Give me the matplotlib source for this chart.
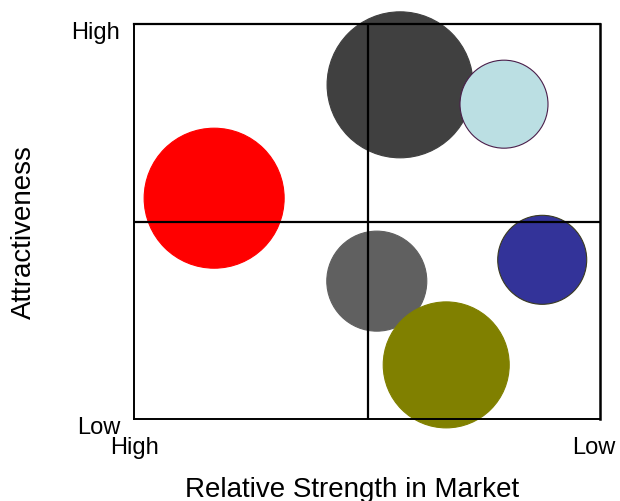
import matplotlib
matplotlib.use("Agg")
import matplotlib.pyplot as plt
import matplotlib.transforms as mtransforms

plt.rcParams['font.family'] = ['Liberation Sans', 'DejaVu Sans']

# Bubble data: position on a 0-10 grid (x: 0 = high strength, y: 10 = high attractiveness)
names = ["A", "B", "C", "D", "E", "F"]
strength = [1.72, 5.71, 7.94, 8.76, 5.21, 6.70]
attractiveness = [5.59, 8.46, 7.97, 4.03, 3.49, 1.37]
bubble_radius = [70, 73, 44, 44.5, 50, 63]  # relative size of each business
colors = ["#FF0000", "#404040", "#BBDFE3", "#333399", "#606060", "#808000"]
edge_colors = ["#FF0000", "#404040", "#4A1E4A", "#3A3A20", "#606060", "#808000"]

x_ticklabels = ["High", "Low"]
y_ticklabels = ["Low", "High"]

DPI = 100
fig = plt.figure(figsize=(6.2, 5.02), dpi=DPI)
ax = fig.add_axes([134 / 620, 1 - 420 / 502, 466 / 620, 395 / 502])
ax.set_xlim(0, 10)
ax.set_ylim(0, 10)

# radius in px -> marker area in points^2
sizes = [(2 * r * 72 / DPI) ** 2 for r in bubble_radius]
ax.scatter(strength, attractiveness, s=sizes, c=colors, edgecolors=edge_colors,
           linewidths=0.8, zorder=2, clip_on=False)

# quadrant lines over the bubbles
ax.axvline(5.02, color="black", lw=1.6, zorder=3)
ax.axhline(5, color="black", lw=1.6, zorder=3)

for side, spine in ax.spines.items():
    spine.set_linewidth(1.4)
    spine.set_zorder(4)
ax.spines["top"].set_linewidth(1.6)
ax.spines["right"].set_linewidth(1.8)

ax.set_xticks([0, 10])
ax.set_xticklabels(x_ticklabels, fontsize=17)
ax.set_yticks([0, 10])
ax.set_yticklabels(y_ticklabels, fontsize=17)
ax.tick_params(axis="x", length=0, pad=12)
ax.tick_params(axis="y", length=0, pad=10)

# nudge the y tick labels down a little, as in the original
shift = mtransforms.ScaledTranslation(0, -4 / 72, fig.dpi_scale_trans)
for lbl in ax.get_yticklabels():
    lbl.set_transform(lbl.get_transform() + shift)

# keep the right-hand "Low" inside the figure
xlbl = ax.get_xticklabels()[1]
xlbl.set_horizontalalignment("right")
xlbl.set_transform(xlbl.get_transform()
                   + mtransforms.ScaledTranslation(11 / 72, 0, fig.dpi_scale_trans))

fig.text(352 / 620, 1 - 490 / 502, "Relative Strength in Market", fontsize=20,
         ha="center", va="center")
fig.text(24 / 620, 1 - 232 / 502, "Attractiveness", fontsize=20, rotation=90,
         ha="center", va="center")

fig.savefig("out.png", dpi=DPI)
